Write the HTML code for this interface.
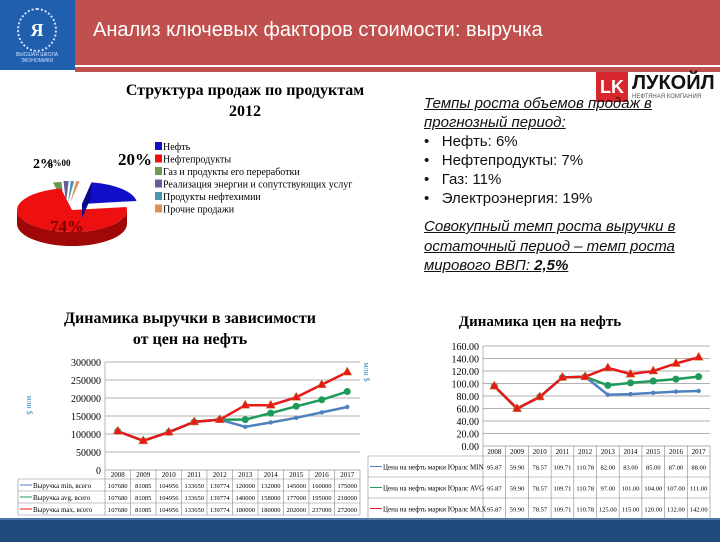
<!DOCTYPE html>
<html><head><meta charset="utf-8"><style>
body{margin:0;width:720px;height:540px;overflow:hidden;background:#fff;font-family:"Liberation Serif",serif;position:relative}
.abs{position:absolute}
</style></head><body>
<div class="abs" style="left:75px;top:0;width:645px;height:65px;background:#c0504d"></div>
<div class="abs" style="left:75px;top:67px;width:645px;height:5px;background:#c0504d"></div>
<div class="abs" style="left:0;top:0;width:75px;height:70px;background:#1f5fae">
 <div style="position:absolute;left:17px;top:8px;width:36px;height:40px;border:2px dotted #cfe0ff;border-radius:50%;color:#fff;font:bold 18px 'Liberation Serif';text-align:center;line-height:40px">Я</div>
 <div style="position:absolute;left:8px;top:52px;width:58px;color:#cfe0ff;font:5px 'Liberation Sans';text-align:center">ВЫСШАЯ ШКОЛА ЭКОНОМИКИ</div>
</div>
<div class="abs" style="left:93px;top:19px;color:#fff;font:20px 'Liberation Sans','DejaVu Sans',sans-serif">Анализ ключевых факторов стоимости: выручка</div>
<div class="abs" style="left:0;top:518px;width:720px;height:22px;background:#1f4a7c;border-top:2px solid #4a78ad"></div>

<div class="abs" style="left:596px;top:72px;width:124px;height:30px">
 <div style="position:absolute;left:0;top:0;width:32px;height:30px;background:#d7282f;color:#fff;font:bold 18px 'Liberation Sans';text-align:center;line-height:30px">LK</div>
 <div style="position:absolute;left:36px;top:0;font:bold 20px 'Liberation Sans',sans-serif;color:#111">ЛУКОЙЛ</div>
 <div style="position:absolute;left:36px;top:22px;font:6px 'Liberation Sans',sans-serif;color:#555">НЕФТЯНАЯ КОМПАНИЯ</div>
</div>
<div class="abs" style="left:424px;top:94px;width:295px;font:15px 'Liberation Sans','DejaVu Sans',sans-serif;line-height:19px;color:#111">
 <div style="font-style:italic;text-decoration:underline">Темпы роста объемов продаж в прогнозный период:</div>
 <div>•&nbsp;&nbsp;&nbsp;Нефть: 6%</div>
 <div>•&nbsp;&nbsp;&nbsp;Нефтепродукты: 7%</div>
 <div>•&nbsp;&nbsp;&nbsp;Газ: 11%</div>
 <div>•&nbsp;&nbsp;&nbsp;Электроэнергия: 19%</div>
 <div style="font-style:italic;text-decoration:underline;margin-top:9px;line-height:19.5px">Совокупный темп роста выручки в остаточный период – темп роста мирового ВВП: <b>2,5%</b></div>
</div>

<div class="abs" style="left:100px;top:80px;width:290px;text-align:center;font:bold 16px 'Liberation Serif',serif;line-height:21px">Структура продаж по продуктам<br>2012</div>
<svg class="abs" style="left:0;top:130px" width="400" height="130" id="pie"></svg>

<div class="abs" style="left:30px;top:308px;width:320px;text-align:center;font:bold 16px 'Liberation Serif',serif;line-height:21px">Динамика выручки в зависимости<br>от цен на нефть</div>
<div class="abs" style="left:420px;top:314px;width:240px;text-align:center;font:bold 15px 'Liberation Serif',serif">Динамика цен на нефть</div>
<svg class="abs" style="left:0;top:0" width="720" height="540" id="charts"></svg>

<script>
// Pie data
const pieLabels=["Нефть","Нефтепродукты","Газ и продукты его переработки","Реализация энергии и сопутствующих услуг","Продукты нефтехимии","Прочие продажи"];
const pieValues=[20,74,2.5,1.5,1,1];
const pieColors=["#1010c8","#ee1010","#6e9a50","#6a5a9a","#4a96b0","#e09050"];
// Revenue chart data
const years=["2008","2009","2010","2011","2012","2013","2014","2015","2016","2017"];
const revMin=[107680,81085,104956,133650,139774,120000,132000,145000,160000,175000];
const revAvg=[107680,81085,104956,133650,139774,140000,158000,177000,195000,218000];
const revMax=[107680,81085,104956,133650,139774,180000,180000,202000,237000,272000];
const revTicks=[0,50000,100000,150000,200000,250000,300000];
// Oil price data
const oilMin=[95.87,59.90,78.57,109.71,110.78,82.00,83.00,85.00,87.00,88.00];
const oilAvg=[95.87,59.90,78.57,109.71,110.78,97.00,101.00,104.00,107.00,111.00];
const oilMax=[95.87,59.90,78.57,109.71,110.78,125.00,115.00,120.00,132.00,142.00];
const oilTicks=[0,20,40,60,80,100,120,140,160];

const NS="http://www.w3.org/2000/svg";
function mk(p,t,a){const e=document.createElementNS(NS,t);for(const k in a)e.setAttribute(k,a[k]);p.appendChild(e);return e;}

// ---- pie
const pie=document.getElementById('pie');
const cx=72,cy=80,rx=55,ry=22,dep=14;
const total=pieValues.reduce((a,b)=>a+b,0);
const offs=[[10,-6],[0,0],[-8,-6],[-6,-7],[-4,-7],[-2,-7]];
function pt(a,dx,dy,yo){return [cx+dx+rx*Math.cos(a),cy+dy+yo+ry*Math.sin(a)];}
let ang=-80*Math.PI/180;
const sl=[];
pieValues.forEach((v,i)=>{const a0=ang,a1=ang+v/total*2*Math.PI;ang=a1;sl.push([a0,a1]);});
[2,3,4,5,1,0].forEach(i=>{
 const [a0,a1]=sl[i],[dx,dy]=offs[i];
 const dark=i==1?"#a00808":(i==0?"#0a0a90":"#555");
 const ranges=[[a0,a1],[a0-2*Math.PI,a1-2*Math.PI]];
 ranges.forEach(([b0,b1])=>{
  const s0=Math.max(b0,0),s1=Math.min(b1,Math.PI);
  if(s1>s0){const p0=pt(s0,dx,dy,0),p1=pt(s1,dx,dy,0);
   const g=mk(pie,'path',{d:`M${p0} A${rx},${ry} 0 0 1 ${p1} L${pt(s1,dx,dy,dep)} A${rx},${ry} 0 0 0 ${pt(s0,dx,dy,dep)} Z`,fill:dark});
   
   }
 });
 const p0=pt(a0,dx,dy,0),p1=pt(a1,dx,dy,0),lg=(a1-a0)>Math.PI?1:0;
 const s=mk(pie,'path',{d:`M${cx+dx},${cy+dy} L${p0} A${rx},${ry} 0 ${lg} 1 ${p1} Z`,fill:pieColors[i]});
 
 
 if(i==0){const w=mk(pie,'path',{d:`M${cx+dx},${cy+dy} L${cx+dx},${cy+dy+dep} L${pt(a0,dx,dy,dep)} L${p0} Z`,fill:'#0a0a90'});
  
  }
});
mk(pie,'text',{x:118,y:35,'font-size':17,'font-family':'Liberation Serif','font-weight':'bold'}).textContent="20%";
mk(pie,'text',{x:50,y:102,'font-size':17,'font-family':'Liberation Serif','font-weight':'bold',fill:'#700'}).textContent="74%";
mk(pie,'text',{x:33,y:38,'font-size':14,'font-family':'Liberation Serif','font-weight':'bold'}).textContent="2%";
mk(pie,'text',{x:48,y:36,'font-size':9,'font-family':'Liberation Serif','font-weight':'bold'}).textContent="0%00";
pieLabels.forEach((l,i)=>{
 const y=20+i*12.5;
 const r=mk(pie,'rect',{x:155,y:y-8,width:7,height:8,fill:pieColors[i]});
 
 
 const t=mk(pie,'text',{x:163,y:y,'font-size':10,'font-family':'Liberation Serif'});t.textContent=l;
 
 
});

// ---- charts
const svg=document.getElementById('charts');
function lineChart(o){
 const n=o.cats.length,cw=(o.x1-o.x0)/n;
 const X=i=>o.x0+cw*(i+0.5);
 const Y=v=>o.yb-(v-o.ticks[0])/(o.ticks[o.ticks.length-1]-o.ticks[0])*(o.yb-o.yt);
 o.ticks.forEach(t=>{
  mk(svg,'line',{x1:o.x0,x2:o.x1,y1:Y(t),y2:Y(t),stroke:'#999','stroke-width':0.7});
  const tx=mk(svg,'text',{x:o.x0-4,y:Y(t)+4,'text-anchor':'end','font-size':10,'font-family':'Liberation Serif'});tx.textContent=o.fmt(t);
  
  
 });
 mk(svg,'line',{x1:o.x0,x2:o.x0,y1:o.yt,y2:o.yb,stroke:'#999','stroke-width':0.7});
 const rows=o.series.length;
 const tb=o.yb+o.hh+rows*o.rh;
 mk(svg,'line',{x1:o.lx,x2:o.x1,y1:o.yb+o.hh,y2:o.yb+o.hh,stroke:'#888','stroke-width':0.6});
 for(let r=1;r<=rows;r++)mk(svg,'line',{x1:o.lx,x2:o.x1,y1:o.yb+o.hh+r*o.rh,y2:o.yb+o.hh+r*o.rh,stroke:'#888','stroke-width':0.6});
 mk(svg,'line',{x1:o.lx,x2:o.lx,y1:o.yb+o.hh,y2:tb,stroke:'#888','stroke-width':0.6});
 for(let i=0;i<=n;i++)mk(svg,'line',{x1:o.x0+cw*i,x2:o.x0+cw*i,y1:o.yb,y2:tb,stroke:'#888','stroke-width':0.6});
 o.cats.forEach((c,i)=>{const t=mk(svg,'text',{x:X(i),y:o.yb+o.hh-2,'text-anchor':'middle','font-size':7,'font-family':'Liberation Serif'});t.textContent=c;
  
  });
 o.series.forEach((s,r)=>{
  const ry0=o.yb+o.hh+r*o.rh;
  mk(svg,'line',{x1:o.lx+2,x2:o.lx+14,y1:ry0+o.rh/2,y2:ry0+o.rh/2,stroke:s.color,'stroke-width':1});
  const lt=mk(svg,'text',{x:o.lx+15,y:ry0+o.rh/2+3,'font-size':7,'font-family':'Liberation Serif'});lt.textContent=s.name;
  
  
  s.vals.forEach((v,i)=>{const t=mk(svg,'text',{x:X(i),y:ry0+o.rh/2+3,'text-anchor':'middle','font-size':6.5,'font-family':'Liberation Serif'});t.textContent=o.cellFmt(v);
   
   });
 });
 o.series.forEach(s=>{
  const p=mk(svg,'polyline',{points:s.vals.map((v,i)=>X(i)+','+Y(v)).join(' '),fill:'none',stroke:s.color,'stroke-width':2.5});
  
  
  s.vals.forEach((v,i)=>{let m;
   if(s.mk=='tri')m=mk(svg,'path',{d:`M${X(i)},${Y(v)-5} l4.5,8 h-9 Z`,fill:s.color,stroke:'#c08030','stroke-width':0.5});
   else m=mk(svg,'circle',{cx:X(i),cy:Y(v),r:s.mk=='dot'?3.5:2.2,fill:s.color});
   
   });
 });
 const yl=mk(svg,'text',{x:o.ylx,y:o.yly,'text-anchor':'middle','font-size':8,'font-family':'Liberation Serif',fill:'#3a8fc0',transform:`rotate(90 ${o.ylx} ${o.yly})`});yl.textContent="млн $";
 
 
}
lineChart({cats:years,ticks:revTicks,x0:105,x1:360,yt:362,yb:470,lx:18,hh:9,rh:12,ylx:27,yly:405,
 fmt:t=>String(t),cellFmt:v=>String(v),
 series:[{name:"Выручка min, всего",vals:revMin,color:"#4f81bd",mk:'small'},
         {name:"Выручка avg, всего",vals:revAvg,color:"#1e9a5a",mk:'dot'},
         {name:"Выручка max, всего",vals:revMax,color:"#e81818",mk:'tri'}]});
lineChart({cats:years,ticks:oilTicks,x0:483,x1:710,yt:346,yb:446,lx:368,hh:10,rh:21,ylx:364,yly:372,
 fmt:t=>t.toFixed(2),cellFmt:v=>v.toFixed(2),
 series:[{name:"Цена на нефть марки Юралс MIN",vals:oilMin,color:"#4f81bd",mk:'small'},
         {name:"Цена на нефть марки Юралс AVG",vals:oilAvg,color:"#1e9a5a",mk:'dot'},
         {name:"Цена на нефть марки Юралс MAX",vals:oilMax,color:"#e81818",mk:'tri'}]});
</script>
</body></html>
